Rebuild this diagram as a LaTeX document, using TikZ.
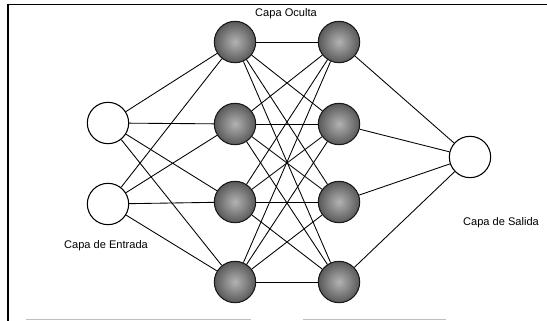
\documentclass[tikz,border=0pt]{standalone}
\usepackage{fontspec}
\setmainfont{Liberation Sans}
\usepackage{tikz}
\usetikzlibrary{positioning}

\tikzset{
  neuron/.style={circle, draw=black, thick, minimum size=31pt, inner sep=0pt},
  entrada/.style={neuron, fill=white},
  oculta/.style={neuron, draw=black!90, inner color=black!30, outer color=black!65},
  enlace/.style={black, line width=0.65pt},
  etiqueta/.style={font=\fontsize{8.3}{10}\selectfont, inner sep=0pt}
}

\begin{document}
\begin{tikzpicture}[x=0.75pt,y=-0.75pt]
      \useasboundingbox (0,0) rectangle (547,321);
      % Draw the frame
      \draw[black, line width=1.2pt] (8,321) -- (8,4.5) -- (547,4.5);
      \draw[gray!50, line width=0.6pt] (26,319) -- (251,319);
      \draw[gray!50, line width=0.6pt] (303,319) -- (446,319);
      % Input and output neurons
      \node[entrada] (e1) at (108,123) {};
      \node[entrada] (e2) at (108,204) {};
      \node[entrada] (s) at (470,157) {};
      % Two hidden layers
      \foreach \i/\y in {1/42, 2/124, 3/202, 4/282} {
        \node[oculta] (a\i) at (235,\y) {};
        \node[oculta] (b\i) at (339,\y) {};
      }
      % Connect every layer with the next one
      \foreach \i in {1,...,4} {
        \draw[enlace] (e1) -- (a\i);
        \draw[enlace] (e2) -- (a\i);
        \draw[enlace] (b\i) -- (s);
        \foreach \j in {1,...,4}
          \draw[enlace] (a\i) -- (b\j);
      }
      % Layer names
      \node[etiqueta] (tOculta) at (286,14) {Capa Oculta};
      \node[etiqueta] (tEntrada) at (106,246) {Capa de Entrada};
      \node[etiqueta] (tSalida) at (501,223) {Capa de Salida};
    \end{tikzpicture}
\end{document}
